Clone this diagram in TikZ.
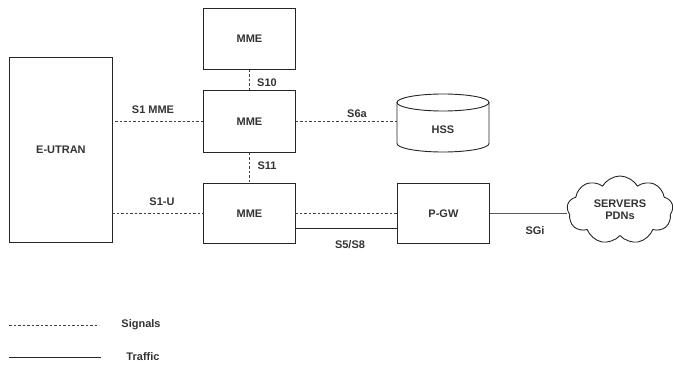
\documentclass[tikz,border=0pt]{standalone}
\usepackage{fontspec}
\setmainfont{Liberation Sans}
\usetikzlibrary{shapes.symbols}
\begin{document}
\begin{tikzpicture}[x=1pt,y=-1pt,
  lbl/.style={font=\bfseries\fontsize{11}{12}\selectfont, text=black!80, inner sep=0pt},
  boxn/.style={draw=black!85, line width=0.9pt, lbl, minimum width=92pt, minimum height=61pt, anchor=north west},
  sig/.style={draw=black!75, line width=0.8pt, dash pattern=on 2.5pt off 2pt},
  traf/.style={draw=black!85, line width=0.9pt}]
\useasboundingbox (0,0) rectangle (673,366);
% boxes
\node[boxn, minimum width=103pt, minimum height=185pt] (eutran) at (9,57) {E-UTRAN};
\node[boxn] (mme1) at (203,8) {MME};
\node[boxn, minimum height=62pt] (mme2) at (203,90) {MME};
\node[boxn, minimum height=60pt] (mme3) at (203,183) {MME};
\node[boxn, minimum height=60pt] (pgw) at (397,183) {P-GW};
% HSS cylinder
\draw[draw=black!85, line width=0.9pt, fill=white] (397,102.5) -- (397,143.5) arc[start angle=180, end angle=0, x radius=46, y radius=8.5] -- (489,102.5);
\draw[draw=black!85, line width=0.9pt] (443,102.5) ellipse[x radius=46, y radius=8.5];
\node[lbl] (hss) at (443,130) {HSS};
\coordinate (hssl) at (397,121);
% cloud
\node[cloud, cloud puffs=9, cloud puff arc=120, aspect=1.6, draw=black!85, line width=0.9pt, minimum width=106pt, minimum height=68pt, inner sep=0pt, align=center, lbl] (srv) at (620,210) {SERVERS\\PDNs};
% connectors
\coordinate (s1a) at (115,121);
\coordinate (s1b) at (112,213);
\draw[sig] (s1a) -- (mme2.west |- s1a);
\draw[sig] (s1b) -- (mme3.west |- s1b);
\draw[sig] (mme1.south) -- (mme2.north);
\draw[sig] (mme2.south) -- (mme3.north);
\draw[sig] (mme2.east |- hssl) -- (hssl);
\coordinate (dsh) at (295,213);
\coordinate (sol) at (295,228);
\draw[sig] (dsh) -- (pgw.west |- dsh);
\draw[traf] (sol) -- (pgw.west |- sol);
\draw[traf, draw=black!65] (pgw.east |- dsh) -- (srv.west |- dsh);
% labels
\node[lbl] (l1) at (153,110) {S1 MME};
\node[lbl] (l2) at (162,202) {S1-U};
\node[lbl] (l3) at (267,83) {S10};
\node[lbl] (l4) at (267,166) {S11};
\node[lbl] (l5) at (357,114) {S6a};
\node[lbl] (l6) at (350,245) {S5/S8};
\node[lbl] (l7) at (535,231) {SGi};
% legend
\coordinate (lg1a) at (9,325);
\coordinate (lg1b) at (99,325);
\coordinate (lg2a) at (9,357);
\coordinate (lg2b) at (101,357);
\draw[sig] (lg1a) -- (lg1b);
\draw[traf] (lg2a) -- (lg2b);
\node[lbl] (lgs) at (141,325) {Signals};
\node[lbl] (lgt) at (143,357) {Traffic};
\end{tikzpicture}
\end{document}
